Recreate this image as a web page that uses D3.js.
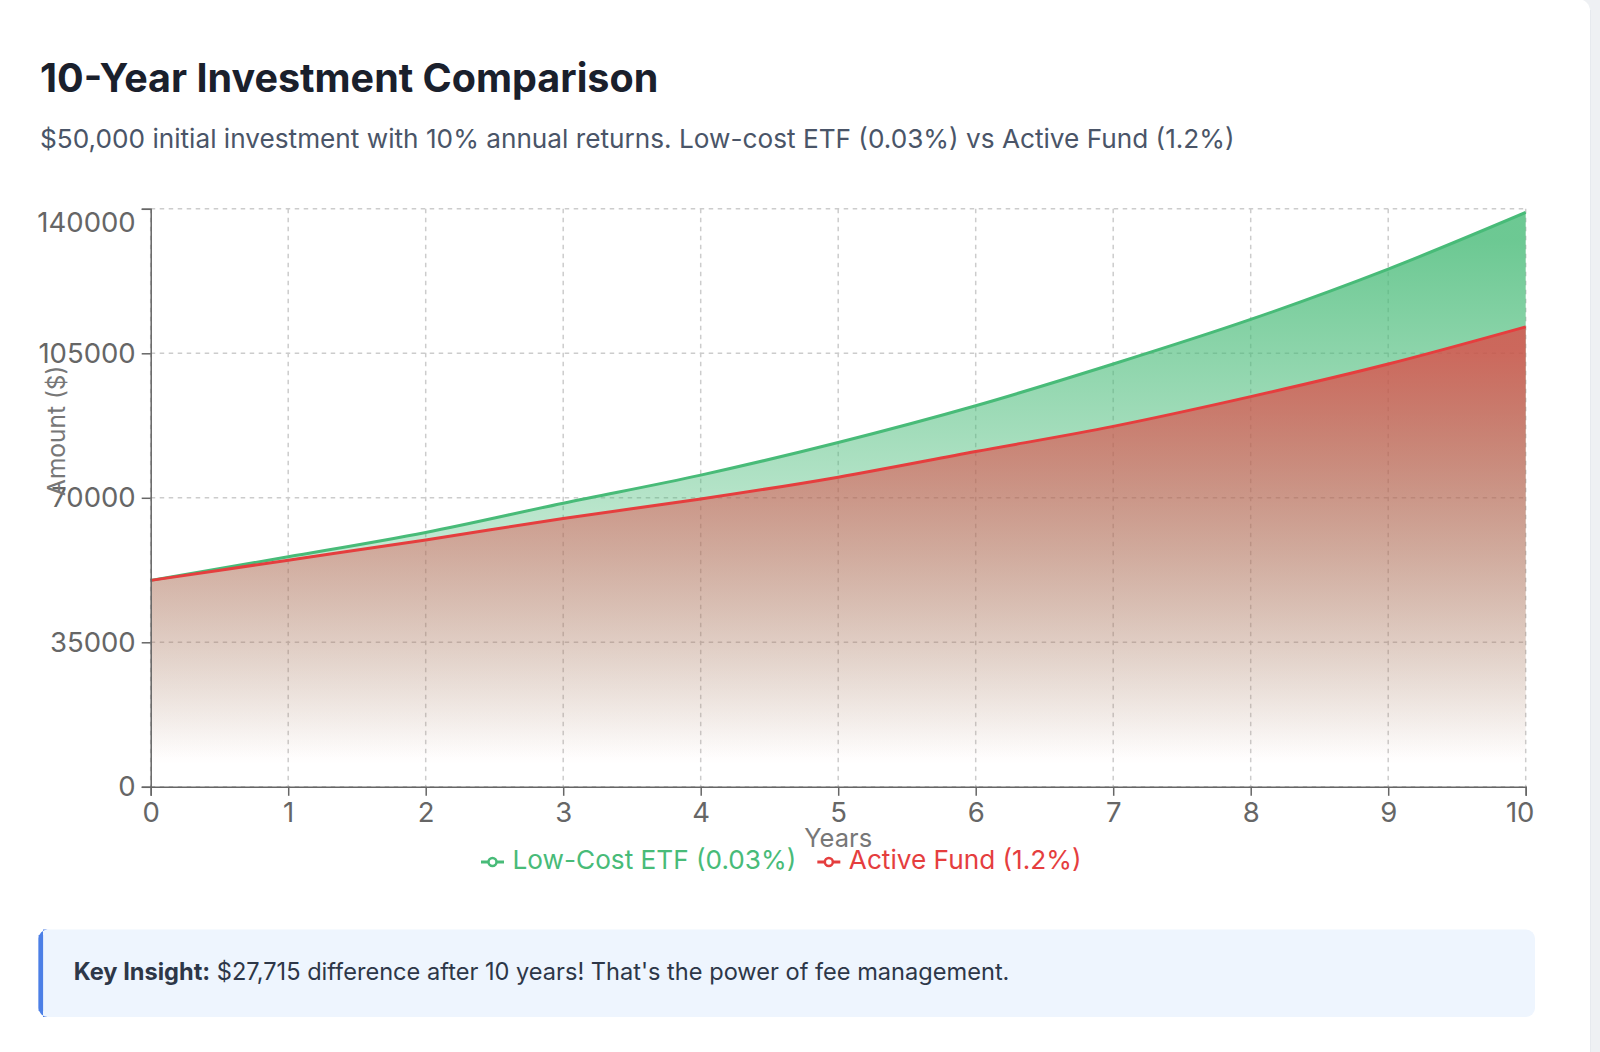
<!DOCTYPE html>
<html>
<head>
<meta charset="utf-8">
<script src="https://cdn.jsdelivr.net/npm/d3@7"></script>
<style>
  html, body { margin: 0; padding: 0; background: #eef0f3; }
  svg { display: block; }
</style>
</head>
<body>
<svg id="chart" width="1600" height="1052"></svg>
<script>
// ---- data ----
const years = [0, 1, 2, 3, 4, 5, 6, 7, 8, 9, 10];
const etfValues = [50000, 55700, 61600, 68700, 75500, 83400, 92300, 102400, 113200, 125400, 139115];
const activeValues = [50000, 54900, 59800, 65000, 69700, 75000, 81200, 87300, 94500, 102400, 111400];
const yTicks = [0, 35000, 70000, 105000, 140000];
const seriesNames = ["Low-Cost ETF (0.03%)", "Active Fund (1.2%)"];
const seriesColors = ["#48bb78", "#e53e3e"];
const titleText = "10-Year Investment Comparison";
const subtitleText = "$50,000 initial investment with 10% annual returns. Low-cost ETF (0.03%) vs Active Fund (1.2%)";
const insightBold = "Key Insight:";
const insightText = " $27,715 difference after 10 years! That's the power of fee management.";

const FONT = "Inter, 'Noto Sans', 'DejaVu Sans', sans-serif";
const svg = d3.select("#chart");

// card
svg.append("rect").attr("x", -20).attr("y", -1).attr("width", 1610).attr("height", 1080)
  .attr("rx", 12).attr("fill", "#ffffff");
svg.append("line").attr("x1", 1590.5).attr("x2", 1590.5).attr("y1", 10).attr("y2", 1052)
  .attr("stroke", "#e6e9ee").attr("stroke-width", 1);

// title
svg.append("text").attr("x", 40).attr("y", 91.5).text(titleText)
  .attr("font-family", FONT).attr("font-size", 39.5).attr("font-weight", 700).attr("fill", "#1a202c");
svg.append("text").attr("x", 40).attr("y", 147.5).text(subtitleText)
  .attr("font-family", FONT).attr("font-size", 26.2).attr("fill", "#4a5568");

// scales
const x = d3.scaleLinear().domain([0, 10]).range([150.7, 1525.7]);
const y = d3.scaleLinear().domain([0, 140000]).range([786.8, 208.8]);

const defs = svg.append("defs");
const stopTop = [0.8, 0.72];
["gEtf", "gAct"].forEach((id, i) => {
  const g = defs.append("linearGradient").attr("id", id).attr("x1", 0).attr("y1", 0).attr("x2", 0).attr("y2", 1);
  g.append("stop").attr("offset", "5%").attr("stop-color", seriesColors[i]).attr("stop-opacity", stopTop[i]);
  g.append("stop").attr("offset", "95%").attr("stop-color", seriesColors[i]).attr("stop-opacity", 0);
});

// grid
const grid = svg.append("g").attr("stroke", "#cccccc").attr("stroke-width", 1.5).attr("stroke-dasharray", "4.5 4.5").attr("fill", "none");
grid.selectAll("line.h").data(yTicks).join("line")
  .attr("x1", x(0)).attr("x2", x(10)).attr("y1", d => y(d)).attr("y2", d => y(d));
grid.selectAll("line.v").data(years).join("line")
  .attr("x1", d => x(d)).attr("x2", d => x(d)).attr("y1", y(140000)).attr("y2", y(0));

// areas
const rows = years.map((yr, i) => ({ yr, etf: etfValues[i], act: activeValues[i] }));
const curve = d3.curveMonotoneX;
const areaEtf = d3.area().curve(curve).x(d => x(d.yr)).y0(y(0)).y1(d => y(d.etf));
const areaAct = d3.area().curve(curve).x(d => x(d.yr)).y0(y(0)).y1(d => y(d.act));
const lineEtf = d3.line().curve(curve).x(d => x(d.yr)).y(d => y(d.etf));
const lineAct = d3.line().curve(curve).x(d => x(d.yr)).y(d => y(d.act));

svg.append("path").datum(rows).attr("d", areaEtf).attr("fill", "url(#gEtf)");
svg.append("path").datum(rows).attr("d", lineEtf).attr("fill", "none").attr("stroke", seriesColors[0]).attr("stroke-width", 3);
svg.append("path").datum(rows).attr("d", areaAct).attr("fill", "url(#gAct)");
svg.append("path").datum(rows).attr("d", lineAct).attr("fill", "none").attr("stroke", seriesColors[1]).attr("stroke-width", 3);

// axes
const xAxis = d3.axisBottom(x).tickValues(years).tickSize(9).tickPadding(6).tickFormat(d3.format("d"));
const gx = svg.append("g").attr("transform", `translate(0,${y(0)})`).call(xAxis);
const yAxis = d3.axisLeft(y).tickValues(yTicks).tickSize(9).tickPadding(6).tickFormat(d3.format("d"));
const gy = svg.append("g").attr("transform", `translate(${x(0)},0)`).call(yAxis);
[gx, gy].forEach(g => {
  g.select(".domain").attr("stroke", "#666").attr("stroke-width", 1.5);
  g.selectAll(".tick line").attr("stroke", "#666").attr("stroke-width", 1.5);
  g.selectAll(".tick text").attr("fill", "#666").attr("font-family", FONT).attr("font-size", 27.5);
});
gx.selectAll(".tick text").attr("dy", "0.72em");
gx.selectAll(".tick text").filter(d => d === 10).attr("dx", -6);
gy.selectAll(".tick text").filter(d => d === 140000).attr("dy", "0.83em");

// axis labels
svg.append("text").attr("x", (x(0) + x(10)) / 2).attr("y", 847).attr("text-anchor", "middle")
  .text("Years").attr("font-family", FONT).attr("font-size", 25.5).attr("fill", "#777");
svg.append("text").attr("transform", "translate(65,496) rotate(-90)").attr("text-anchor", "start")
  .text("Amount ($)").attr("font-family", FONT).attr("font-size", 24.5).attr("fill", "#777");

// legend
const legend = svg.append("g").attr("transform", "translate(481,862)");
let lx = 0;
seriesNames.forEach((name, i) => {
  const g = legend.append("g").attr("transform", `translate(${lx},0)`);
  g.append("line").attr("x1", 0).attr("x2", 23).attr("y1", 0).attr("y2", 0)
    .attr("stroke", seriesColors[i]).attr("stroke-width", 3);
  g.append("circle").attr("cx", 11.5).attr("cy", 0).attr("r", 4).attr("fill", "#fff")
    .attr("stroke", seriesColors[i]).attr("stroke-width", 2.5);
  const t = g.append("text").attr("x", 31.5).attr("y", 6.5).text(name)
    .attr("font-family", FONT).attr("font-size", 26.2).attr("fill", seriesColors[i]);
  lx += 31.5 + t.node().getComputedTextLength() + 21;
});

// insight box
svg.append("rect").attr("x", 38.6).attr("y", 929.5).attr("width", 1535 - 38.6).attr("height", 87.5)
  .attr("rx", 9).attr("fill", "#eef5fe");
svg.append("path").attr("d", "M47.6,929.5 A9,9 0 0 0 38.6,938.5 L38.6,1008 A9,9 0 0 0 47.6,1017 L43,1017 L43,929.5 Z")
  .attr("fill", "#4c7fe6");
svg.append("rect").attr("x", 38.6).attr("y", 935).attr("width", 4.5).attr("height", 76).attr("fill", "#4c7fe6");
const it = svg.append("text").attr("x", 73.7).attr("y", 980).attr("font-family", FONT).attr("font-size", 23.6).attr("fill", "#2d3748");
it.append("tspan").attr("font-weight", 700).text(insightBold);
it.append("tspan").text(insightText);
</script>
</body>
</html>
